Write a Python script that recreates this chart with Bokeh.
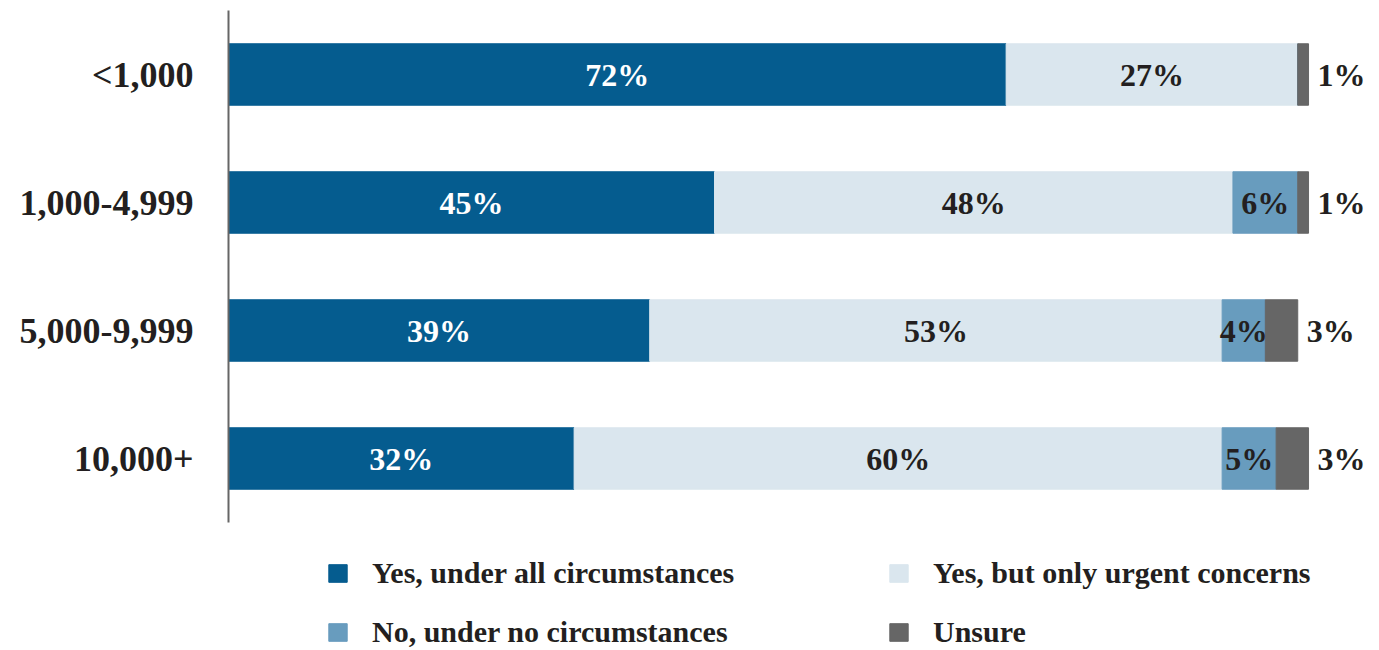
from bokeh.plotting import figure
from bokeh.models import (ColumnDataSource, Range1d, Legend, LegendItem, FixedTicker)
from bokeh.embed import file_html
from bokeh.resources import INLINE
from bokeh.core.properties import value

# ---------------- data ----------------
categories = ["<1,000", "1,000-4,999", "5,000-9,999", "10,000+"]
yes_all = [72, 45, 39, 32]
yes_urgent = [27, 48, 53, 60]
no_never = [0, 6, 4, 5]
unsure = [1, 1, 3, 3]
series_names = ["Yes, under all circumstances", "Yes, but only urgent concerns",
                "No, under no circumstances", "Unsure"]
colors = ["#055C8F", "#DAE6EE", "#689CBE", "#666666"]
text_colors = ["#FFFFFF", "#231F20", "#231F20", "#231F20"]

FONT = "Liberation Serif"
DARK = "#231F20"

n = len(categories)
ypos = [n - 1 - i for i in range(n)]          # first category on top
keys = ["yes_all", "yes_urgent", "no_never", "unsure"]
series = [yes_all, yes_urgent, no_never, unsure]
src = ColumnDataSource(dict(y=ypos, **{k: v for k, v in zip(keys, series)}))

p = figure(width=1379, height=650,
           y_range=Range1d(-1.5, n - 0.5),
           x_range=Range1d(0, 106.57),
           output_backend="svg", toolbar_location=None, x_axis_location=None,
           min_border_left=228, min_border_right=0, min_border_top=10, min_border_bottom=0)

rs = p.hbar_stack(keys, y="y", height=0.48, color=colors, source=src)

# in-bar labels and outside labels
in_x, in_y, in_t, in_c = [], [], [], []
out_x, out_y, out_t = [], [], []
for i in range(n):
    left = 0
    for j, s in enumerate(series):
        v = s[i]
        if j < 3:
            if v > 0:
                in_x.append(left + v / 2)
                in_y.append(ypos[i])
                in_t.append(f"{v}%")
                in_c.append(text_colors[j])
        else:
            out_x.append(left + v)
            out_y.append(ypos[i])
            out_t.append(f"{v}%")
        left += v

p.text(x="x", y="y", text="t", text_color="c",
       source=ColumnDataSource(dict(x=in_x, y=in_y, t=in_t, c=in_c)),
       text_font=value(FONT), text_font_style="bold", text_font_size="32px",
       text_align="center", text_baseline="middle")
p.text(x="x", y="y", text="t",
       source=ColumnDataSource(dict(x=out_x, y=out_y, t=out_t)),
       text_color=DARK, x_offset=9,
       text_font=value(FONT), text_font_style="bold", text_font_size="32px",
       text_align="left", text_baseline="middle")

# axes / grid
p.xgrid.visible = False
p.ygrid.visible = False
p.outline_line_color = None
ax = p.yaxis[0]
ax.ticker = FixedTicker(ticks=ypos)
ax.major_label_overrides = {yp: c for yp, c in zip(ypos, categories)}
ax.bounds = (-0.5, n - 0.5)
ax.major_label_text_font = FONT
ax.major_label_text_font_style = "bold"
ax.major_label_text_font_size = "36px"
ax.major_label_text_color = DARK
ax.major_tick_line_color = None
ax.minor_tick_line_color = None
ax.axis_line_color = "#666666"
ax.axis_line_width = 2
ax.major_label_standoff = 29

# legend (column-major fill: order so rows read across)
items = [LegendItem(label=s, renderers=[r]) for s, r in zip(series_names, rs)]
items = [items[0], items[2], items[1], items[3]]
legend = Legend(items=items, ncols=2, location=(98, 0.5),
                padding=0, margin=0, spacing=24,
                glyph_width=23, glyph_height=22, label_standoff=23,
                label_width=491, label_height=35,
                label_text_font=FONT, label_text_font_style="bold",
                label_text_font_size="30px", label_text_color=DARK,
                border_line_color=None, background_fill_alpha=0)
p.add_layout(legend, "center")

open("out.html", "w").write(file_html(p, INLINE))
